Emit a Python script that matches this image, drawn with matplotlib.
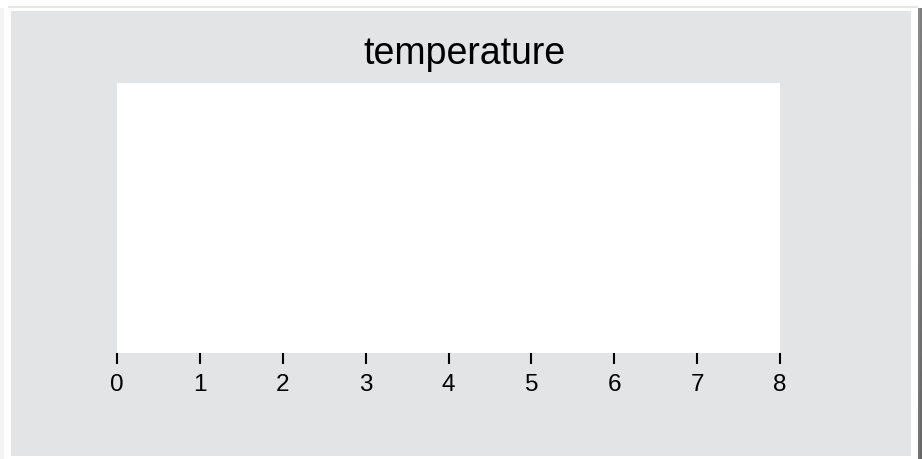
import numpy as np
import matplotlib
matplotlib.use("Agg")
import matplotlib.pyplot as plt
from matplotlib.patches import Rectangle

# chart content (the chart has no plotted series)
title = "temperature"
x_ticks = [0, 1, 2, 3, 4, 5, 6, 7, 8]
x_range = (0, 8)

W, H = 922, 459
fig = plt.figure(figsize=(W / 100, H / 100), dpi=100)
fig.patch.set_facecolor("white")
plt.rcParams['font.family'] = ['Liberation Sans', 'DejaVu Sans']


def px_rect(x0, y0, x1, y1, color):
    # rectangle given in pixel coords from the top-left corner
    fig.patches.append(Rectangle((x0 / W, 1 - y1 / H), (x1 - x0) / W, (y1 - y0) / H,
                                 transform=fig.transFigure, facecolor=color,
                                 edgecolor="none", zorder=-10))


# frame decoration around the panel
px_rect(8, 6, 918, 8, "#e6e6e6")
px_rect(0, 8, 4, H, "#f4f4f4")
px_rect(11, 11, 911, 456, "#e3e4e6")

# darker shaded strip on the right edge
sh = fig.add_axes([918 / W, 0, 4 / W, 1 - 8 / H])
grad = np.linspace(0.55, 0.45, 100).reshape(-1, 1)
sh.imshow(np.hstack([grad, grad * 0.9]), cmap="gray", vmin=0, vmax=1, aspect="auto")
sh.axis("off")

ax = fig.add_axes([117 / W, 1 - 353 / H, (780 - 117) / W, (353 - 83) / H])
ax.set_facecolor("white")
ax.set_xlim(*x_range)
ax.set_ylim(0, 1)
ax.set_xticks(x_ticks)
ax.set_xticklabels([str(t) for t in x_ticks], fontsize=17.5)
ax.set_yticks([])
for s in ax.spines.values():
    s.set_visible(False)
ax.tick_params(axis="x", direction="out", length=8, width=1.5, color="black",
               pad=7, labelcolor="black")

fig.text(464 / W, 1 - 54 / H, title, ha="center", va="center",
         fontsize=27, color="black")

fig.savefig("out.png", dpi=100, facecolor=fig.get_facecolor())
